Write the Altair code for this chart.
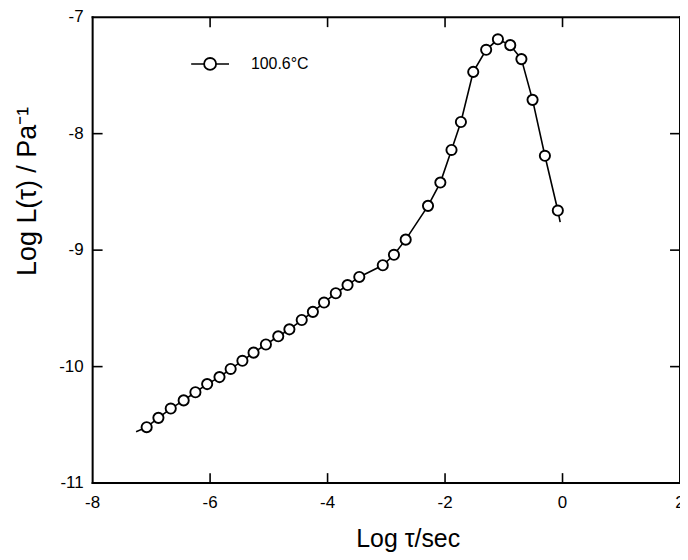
import altair as alt
import pandas as pd

# Data (log tau / s, log L(tau) / Pa^-1), T = 100.6 °C
log_tau = [-7.08, -6.88, -6.67, -6.45, -6.25, -6.05, -5.84, -5.65, -5.45, -5.26,
           -5.05, -4.84, -4.65, -4.44, -4.25, -4.06, -3.86, -3.66, -3.46, -3.06,
           -2.87, -2.67, -2.29, -2.08, -1.89, -1.73, -1.52, -1.30, -1.10, -0.89,
           -0.70, -0.51, -0.30, -0.08]
log_L = [-10.52, -10.44, -10.36, -10.29, -10.22, -10.15, -10.09, -10.02, -9.95, -9.88,
         -9.81, -9.74, -9.68, -9.60, -9.53, -9.45, -9.37, -9.30, -9.23, -9.13,
         -9.04, -8.91, -8.62, -8.42, -8.14, -7.90, -7.47, -7.28, -7.19, -7.24,
         -7.36, -7.71, -8.19, -8.66]
# curve end points (the drawn line extends slightly past the first/last symbol)
curve_start = (-7.26, -10.56)
curve_end = (-0.04, -8.76)

series_name = "100.6°C"
x_title = "Log τ/sec"
y_title = "Log L(τ) / Pa⁻¹"
x_domain = [-8, 2]
y_domain = [-11, -7]
x_ticks = [-8, -6, -4, -2, 0, 2]
y_ticks = [-11, -10, -9, -8, -7]
x_inner_ticks = [-6, -4, -2, 0]
y_inner_ticks = [-10, -9, -8]

W, H = 590, 468
FONT = "Liberation Sans"
TL = 10

pts = pd.DataFrame({"tau": log_tau, "L": log_L})
curve = pd.DataFrame({
    "tau": [curve_start[0]] + log_tau + [curve_end[0]],
    "L": [curve_start[1]] + log_L + [curve_end[1]],
    "order": list(range(len(log_tau) + 2)),
})
xt = pd.DataFrame({"xv": x_inner_ticks})
yt = pd.DataFrame({"yv": y_inner_ticks})
xlab = pd.DataFrame({"xv": x_ticks, "lab": [str(v) for v in x_ticks]})
ylab = pd.DataFrame({"yv": y_ticks, "lab": [str(v) for v in y_ticks]})
fx_lo = pd.DataFrame({"xv": [x_domain[0]]})
fx_hi = pd.DataFrame({"xv": [x_domain[1]]})
fy_lo = pd.DataFrame({"yv": [y_domain[0]]})
fy_hi = pd.DataFrame({"yv": [y_domain[1]]})
xtitle_df = pd.DataFrame({"t": [x_title]})
ytitle_df = pd.DataFrame({"t": [y_title]})
legend_df = pd.DataFrame({"t": [series_name]})

xs = alt.Scale(domain=x_domain, nice=False, zero=False)
ys = alt.Scale(domain=y_domain, nice=False, zero=False)


def XF(f):
    return alt.X(f + ":Q", scale=xs, axis=None)


def YF(f):
    return alt.Y(f + ":Q", scale=ys, axis=None)


line = alt.Chart(curve).mark_line(color="black", strokeWidth=1.6).encode(
    x=XF("tau"), y=YF("L"), order="order:Q")

points = alt.Chart(pts).mark_point(shape="circle", filled=True, fill="white",
                                   stroke="black", size=105, strokeWidth=1.9,
                                   opacity=1).encode(x=XF("tau"), y=YF("L"))

RULE = dict(color="black", strokeWidth=1.6)
FRAME = dict(color="black", strokeWidth=2, strokeCap="square")

bottom_ticks = alt.Chart(xt).mark_rule(**RULE).encode(
    x=XF("xv"), y=alt.value(H), y2=alt.value(H - TL))
top_ticks = alt.Chart(xt).mark_rule(**RULE).encode(
    x=XF("xv"), y=alt.value(0), y2=alt.value(TL))
left_ticks = alt.Chart(yt).mark_rule(**RULE).encode(
    y=YF("yv"), x=alt.value(0), x2=alt.value(TL))
right_ticks = alt.Chart(yt).mark_rule(**RULE).encode(
    y=YF("yv"), x=alt.value(W), x2=alt.value(W - TL))

frame_left = alt.Chart(fx_lo).mark_rule(**FRAME).encode(
    x=XF("xv"), y=alt.value(0), y2=alt.value(H))
frame_right = alt.Chart(fx_hi).mark_rule(**FRAME).encode(
    x=XF("xv"), y=alt.value(0), y2=alt.value(H))
frame_bottom = alt.Chart(fy_lo).mark_rule(**FRAME).encode(
    y=YF("yv"), x=alt.value(0), x2=alt.value(W))
frame_top = alt.Chart(fy_hi).mark_rule(**FRAME).encode(
    y=YF("yv"), x=alt.value(0), x2=alt.value(W))

x_labels = alt.Chart(xlab).mark_text(font=FONT, fontSize=17, color="black",
                                     align="center", baseline="middle").encode(
    x=XF("xv"), y=alt.value(H + 20), text="lab:N")
y_labels = alt.Chart(ylab).mark_text(font=FONT, fontSize=17, color="black",
                                     align="right", baseline="middle").encode(
    y=YF("yv"), x=alt.value(-9), text="lab:N")

x_title_mark = alt.Chart(xtitle_df).mark_text(font=FONT, fontSize=25, color="black",
                                              align="center", baseline="middle").encode(
    x=alt.value(317), y=alt.value(H + 56), text="t:N")
y_title_mark = alt.Chart(ytitle_df).mark_text(font=FONT, fontSize=27, color="black",
                                              align="center", baseline="middle",
                                              angle=270).encode(
    x=alt.value(-65), y=alt.value(175), text="t:N")

# legend: line segment, open circle and label, placed in the upper left
legend_line = alt.Chart(legend_df).mark_rule(color="black", strokeWidth=1.6).encode(
    x=alt.value(99), x2=alt.value(137), y=alt.value(47))
legend_point = alt.Chart(legend_df).mark_point(shape="circle", filled=True, fill="white",
                                               stroke="black", size=144, strokeWidth=1.8,
                                               opacity=1).encode(
    x=alt.value(118), y=alt.value(47))
legend_text = alt.Chart(legend_df).mark_text(font=FONT, fontSize=16, color="black",
                                             align="left", baseline="middle").encode(
    x=alt.value(159), y=alt.value(47), text="t:N")

chart = alt.layer(
    frame_left, frame_right, frame_bottom, frame_top,
    bottom_ticks, top_ticks, left_ticks, right_ticks,
    line, points,
    x_labels, y_labels, x_title_mark, y_title_mark,
    legend_line, legend_point, legend_text,
).properties(
    width=W, height=H,
    autosize=alt.AutoSizeParams(type="none"),
    padding={"left": 85, "top": 8, "right": 0, "bottom": 68},
).configure(background="white")

chart.save("out.html", embed_options={"renderer": "svg", "actions": False})
